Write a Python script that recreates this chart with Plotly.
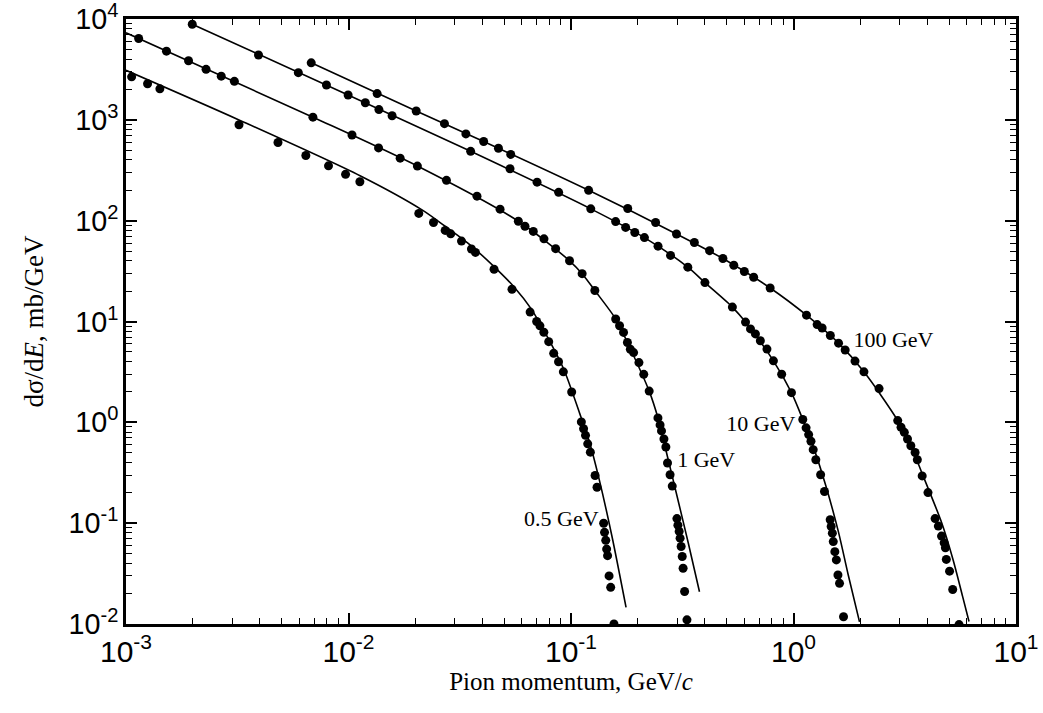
import plotly.graph_objects as go

# ---------------- data ----------------
pts05_x = [0.00106, 0.00125, 0.00142, 0.00322, 0.00482, 0.00643, 0.00813, 0.0097, 0.01125,
           0.0207, 0.0241, 0.0272, 0.0288, 0.0322, 0.0357, 0.0372, 0.0451, 0.0543, 0.0655,
           0.0701, 0.0725, 0.0755, 0.0794, 0.0836, 0.0879, 0.0924, 0.1007, 0.1113, 0.1139,
           0.1162, 0.1189, 0.1222, 0.1283, 0.1309, 0.1402, 0.1415, 0.1433, 0.1446, 0.1460,
           0.1483, 0.1508, 0.156]
pts05_y = [2670, 2280, 2030, 893, 596, 443, 350, 288, 243,
           118, 96, 80, 74, 62.7, 52.4, 48.4, 33.0, 20.9, 12.4,
           10.0, 9.06, 7.82, 6.31, 4.83, 3.99, 3.17, 2.00, 1.01, 0.864,
           0.743, 0.612, 0.506, 0.297, 0.227, 0.0997, 0.0811, 0.0676, 0.0553, 0.0476,
           0.030, 0.0231, 0.0100]
fit05_x = [0.001, 0.00322, 0.01127, 0.0214, 0.0272, 0.0357, 0.0451, 0.0556, 0.066, 0.0782,
           0.0925, 0.1095, 0.121, 0.1337, 0.1526, 0.1768]
fit05_y = [3100, 998, 279, 128, 88, 56, 35, 21.9, 13.5, 7.08,
           3.42, 1.22, 0.637, 0.275, 0.0751, 0.0146]

pts1_x = [0.00114, 0.00152, 0.00191, 0.00229, 0.00268, 0.00307, 0.00692, 0.01037, 0.01365,
          0.01707, 0.0204, 0.02756, 0.0378, 0.048, 0.058, 0.0621, 0.0677, 0.0756, 0.0853,
          0.0985, 0.1122, 0.128, 0.1588, 0.1653, 0.1722, 0.1793, 0.1848, 0.1911, 0.202,
          0.2123, 0.2246, 0.2459, 0.2514, 0.2551, 0.2616, 0.2669, 0.2715, 0.2788, 0.2851,
          0.2993, 0.3023, 0.3063, 0.3093, 0.3126, 0.3162, 0.319, 0.324, 0.332]
pts1_y = [6400, 4800, 3850, 3170, 2710, 2410, 1063, 707, 527,
          417, 348, 251, 175, 130, 98.7, 88, 78.3, 66, 52.8,
          40, 29.8, 20.3, 10.6, 9.08, 7.79, 6.19, 5.31, 4.92, 3.91,
          2.99, 2.04, 1.107, 0.943, 0.822, 0.684, 0.570, 0.395, 0.302, 0.233,
          0.111, 0.0956, 0.0828, 0.071, 0.0587, 0.0467, 0.0357, 0.021, 0.011]
fit1_x = [0.001, 0.00692, 0.0204, 0.058, 0.0985, 0.1122, 0.128, 0.1588, 0.1793, 0.2246,
          0.2459, 0.2735, 0.2999, 0.3368, 0.378]
fit1_y = [7300, 1063, 348, 98.7, 40, 29.8, 20.3, 10.6, 6.19, 2.04,
          1.107, 0.426, 0.184, 0.0632, 0.0209]

pts10_x = [0.001985, 0.00394, 0.00595, 0.00796, 0.00996, 0.0119, 0.0137, 0.0157, 0.0354,
           0.0532, 0.0704, 0.088, 0.1227, 0.1587, 0.176, 0.1935, 0.2138, 0.2461, 0.2802,
           0.335, 0.3999, 0.5313, 0.6087, 0.6407, 0.6743, 0.7096, 0.7598, 0.8123, 0.8848,
           0.979, 1.101, 1.139, 1.17, 1.198, 1.226, 1.26, 1.324, 1.378, 1.462, 1.477, 1.495,
           1.509, 1.534, 1.558, 1.584, 1.61, 1.678]
pts10_y = [8880, 4400, 2935, 2215, 1765, 1477, 1263, 1097, 487,
           327, 241, 191, 131, 97.9, 85.7, 76.3, 67.9, 55.9, 45.2,
           34.6, 24.3, 13.9, 9.87, 8.45, 7.53, 6.45, 5.33, 4.07, 3.0,
           1.97, 1.067, 0.882, 0.756, 0.649, 0.536, 0.426, 0.302, 0.206, 0.108, 0.0926, 0.0796,
           0.0657, 0.0522, 0.0432, 0.0306, 0.0253, 0.0118]
fit10_x = [0.001985, 0.00996, 0.0354, 0.1227, 0.2138, 0.335, 0.4, 0.5313, 0.6087, 0.8123,
           0.979, 1.101, 1.218, 1.393, 1.591, 1.76, 1.98]
fit10_y = [8880, 1765, 487, 131, 67.9, 34.6, 24.3, 13.9, 9.87, 4.07,
           1.97, 1.067, 0.601, 0.24, 0.0824, 0.031, 0.0105]

pts100_x = [0.0068, 0.01345, 0.02015, 0.027, 0.0337, 0.0405, 0.0472, 0.0536, 0.12, 0.1799,
            0.24, 0.2979, 0.3584, 0.4196, 0.4816, 0.5391, 0.6012, 0.6622, 0.7854, 1.144,
            1.277, 1.345, 1.464, 1.594, 1.707, 1.89, 2.073, 2.424, 2.941, 3.043, 3.148,
            3.254, 3.368, 3.52, 3.602, 3.787, 4.022, 4.329, 4.477, 4.627, 4.754, 4.816,
            4.862, 5.028, 5.194, 5.546]
pts100_y = [3676, 1820, 1223, 917, 725, 610, 522, 454, 200, 132,
            96, 73.8, 60.7, 50.4, 42.1, 36.1, 31.3, 27.5, 21.5, 11.55,
            9.32, 8.63, 7.27, 6.1, 5.22, 4.05, 3.17, 2.16, 1.041, 0.893, 0.796,
            0.684, 0.586, 0.502, 0.425, 0.294, 0.201, 0.111, 0.0936, 0.0744, 0.0638, 0.0569,
            0.0437, 0.0334, 0.022, 0.00986]
fit100_x = [0.0068, 0.02015, 0.0405, 0.12, 0.2979, 0.4816, 0.7854, 1.144, 1.594, 2.073,
            2.941, 3.368, 3.787, 4.634, 5.21, 5.754, 6.15]
fit100_y = [3676, 1223, 610, 200, 73.8, 42.1, 21.5, 11.55, 6.1, 3.17,
            1.041, 0.586, 0.31, 0.1009, 0.0436, 0.0188, 0.0106]

labels = ["0.5 GeV", "1 GeV", "10 GeV", "100 GeV"]
label_x = [0.133, 0.30, 1.02, 1.86]
label_y = [0.107, 0.41, 0.92, 6.3]
label_pos = ["middle left", "middle right", "middle left", "middle right"]

x_exponents = [-3, -2, -1, 0, 1]
y_exponents = [-2, -1, 0, 1, 2, 3, 4]

x_title = "Pion momentum, GeV/<i>c</i>"
y_title = "dσ/d<i>E</i>, mb/GeV"

SERIF = "Liberation Serif"
SANS = "Liberation Sans"
MINUS = "\u2212"


def alias_for(exps):
    out = {}
    for p in exps:
        target = "10<sup>%d</sup>" % p
        if p == 0:
            out["1"] = target
        elif p == 1:
            out["10"] = target
        else:
            key = "10<sup>" + (MINUS + str(-p) if p < 0 else str(p)) + "</sup>"
            out[key] = target
    return out


fig = go.Figure()
series = [(pts05_x, pts05_y, fit05_x, fit05_y),
          (pts1_x, pts1_y, fit1_x, fit1_y),
          (pts10_x, pts10_y, fit10_x, fit10_y),
          (pts100_x, pts100_y, fit100_x, fit100_y)]
for (px, py, fx, fy), name in zip(series, labels):
    fig.add_trace(go.Scatter(x=fx, y=fy, mode="lines", name=name + " fit",
                             line=dict(color="black", width=1.6, shape="spline", smoothing=0.8)))
    fig.add_trace(go.Scatter(x=px, y=py, mode="markers", name=name,
                             marker=dict(color="black", size=9)))

# curve labels, drawn on the overlaid top/right axes (same log ranges)
fig.add_trace(go.Scatter(x=label_x, y=label_y, mode="text", text=labels,
                         textposition=label_pos, name="labels", xaxis="x2", yaxis="y2",
                         textfont=dict(family=SERIF, size=22, color="black")))

tick_style = dict(type="log", dtick=1, ticks="inside", ticklen=11, tickwidth=1.8,
                  tickcolor="black", showgrid=False, zeroline=False,
                  minor=dict(dtick="D1", ticks="inside", ticklen=6, tickwidth=1.3,
                             tickcolor="black"))

layout_axes = dict(
    xaxis=dict(range=[x_exponents[0], x_exponents[-1]], exponentformat="power",
               showexponent="all", labelalias=alias_for(x_exponents),
               showline=True, linecolor="black", linewidth=3, mirror=True,
               ticklabeloverflow="allow",
               tickfont=dict(family=SANS, size=24, color="black"),
               title=dict(text=x_title, standoff=6,
                          font=dict(family=SERIF, size=25, color="black")),
               **tick_style),
    yaxis=dict(range=[y_exponents[0], y_exponents[-1]], exponentformat="power",
               showexponent="all", labelalias=alias_for(y_exponents),
               showline=True, linecolor="black", linewidth=3, mirror=True,
               ticklabeloverflow="allow",
               tickfont=dict(family=SANS, size=23, color="black"),
               title=dict(text=y_title, standoff=18,
                          font=dict(family=SERIF, size=27, color="black")),
               **tick_style),
    xaxis2=dict(range=[x_exponents[0], x_exponents[-1]], overlaying="x", side="top",
                anchor="y2", showticklabels=False, showline=False, **tick_style),
    yaxis2=dict(range=[y_exponents[0], y_exponents[-1]], overlaying="y", side="right",
                anchor="x2", showticklabels=False, showline=False, **tick_style),
)

fig.update_layout(width=1043, height=713, autosize=False,
                  margin=dict(l=126, r=27, t=19, b=89, autoexpand=False),
                  paper_bgcolor="white", plot_bgcolor="white", showlegend=False,
                  **layout_axes)

fig.write_html("out.html")
